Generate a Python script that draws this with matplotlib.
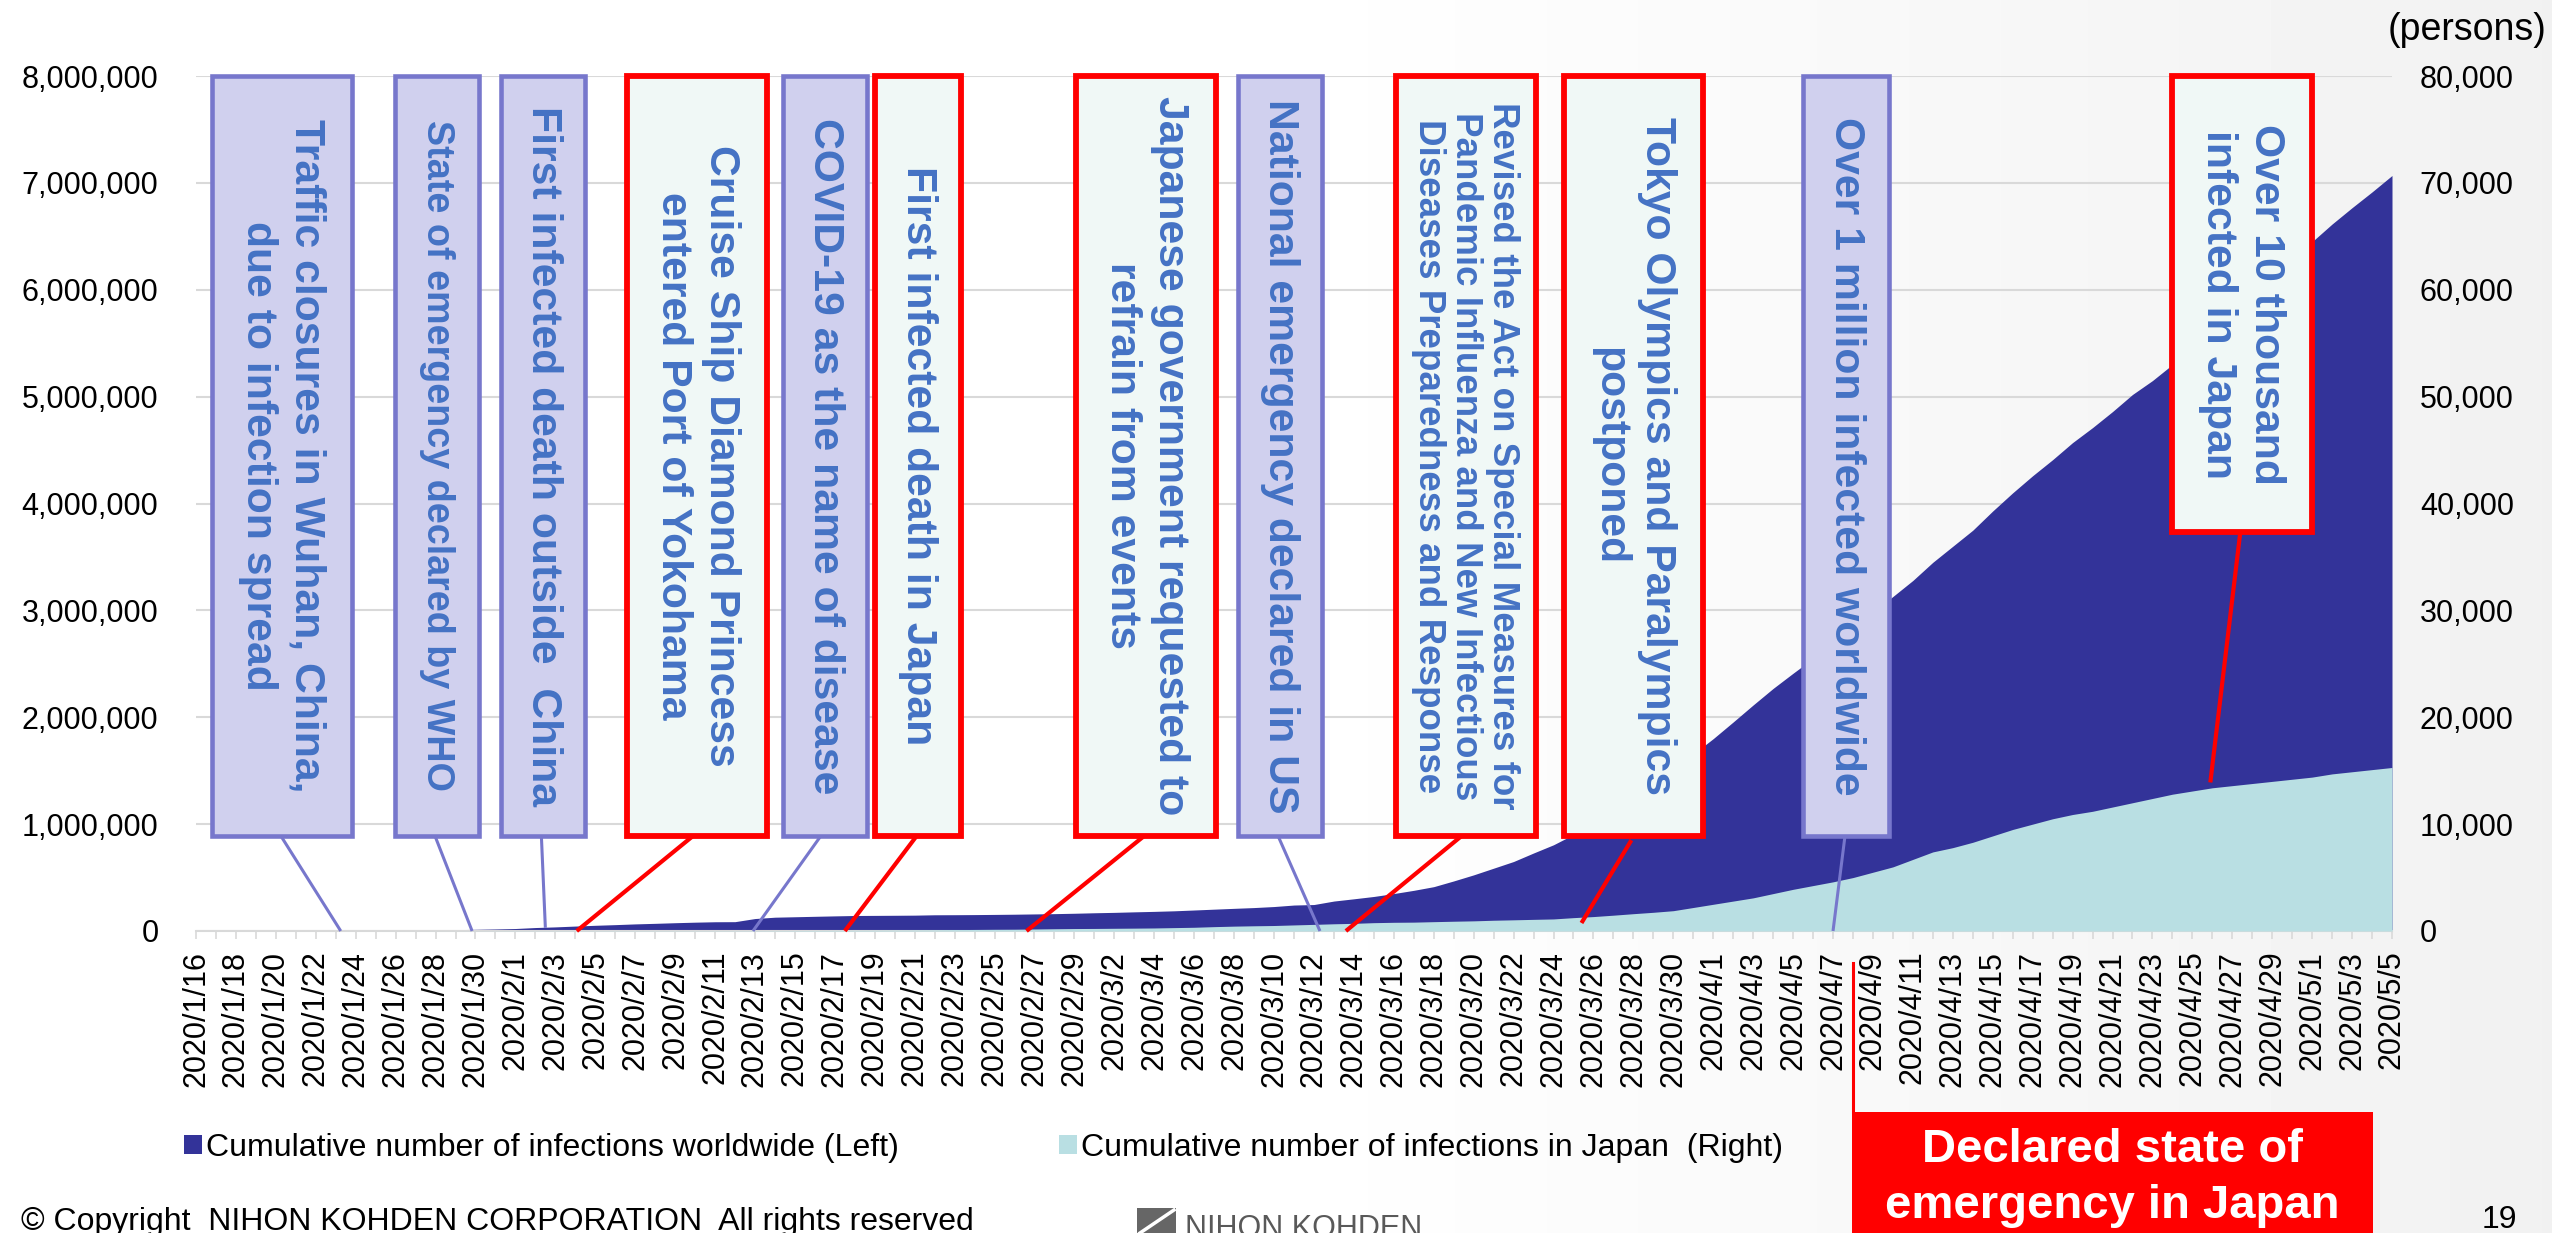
import numpy as np
import pandas as pd
import matplotlib
matplotlib.use("Agg")
import matplotlib.pyplot as plt
from matplotlib.patches import Rectangle, Polygon
from matplotlib.lines import Line2D
from matplotlib.ticker import FuncFormatter
from matplotlib import transforms

plt.rcParams['font.family'] = ['Liberation Sans', 'DejaVu Sans']

W, H = 2552, 1233

# categories: one point per day
dates = pd.date_range("2020-01-16", "2020-05-05", freq="D")
date_labels = [f"{d.year}/{d.month}/{d.day}" for d in dates]

# cumulative infections worldwide (left axis)
world = [90, 120, 230, 380, 560, 850, 1070, 1260, 1820, 2770,
         4090, 5650, 10770, 11900, 15890, 19160, 23230, 32400, 38380, 46120,
         53350, 59450, 66380, 71660, 77510, 82540, 86490, 87290, 116540, 129130,
         133270, 137480, 141410, 145040, 146010, 147090, 148300, 151700, 152430, 153520,
         155170, 157060, 159680, 162350, 166000, 170560, 174300, 179190, 183590, 188920,
         196470, 204260, 211980, 219210, 228860, 242920, 247700, 280220, 301270, 323180,
         350380, 380530, 414790, 468440, 525280, 587740, 650320, 729990, 806830, 902570,
         1022110, 1145050, 1275160, 1389830, 1509960, 1654950, 1799930, 1956000, 2115120, 2269800,
         2412030, 2550460, 2695200, 2850000, 2980000, 3130000, 3280000, 3450000, 3600000, 3750000,
         3930000, 4100000, 4260000, 4410000, 4570000, 4710000, 4860000, 5020000, 5150000, 5300000,
         5470000, 5620000, 5780000, 5950000, 6120000, 6280000, 6450000, 6615240, 6767990, 6915300,
         7068990]

# cumulative infections in Japan (right axis)
japan = [1, 1, 1, 1, 1, 1, 2, 2, 2, 2,
         4, 4, 7, 7, 11, 15, 20, 20, 20, 22,
         22, 25, 25, 25, 26, 26, 26, 28, 29, 33,
         41, 53, 59, 66, 74, 84, 94, 105, 132, 144,
         157, 164, 186, 210, 230, 239, 254, 268, 284, 317,
         349, 408, 455, 488, 514, 568, 620, 675, 716, 780,
         814, 829, 873, 914, 950, 1007, 1046, 1089, 1128, 1250,
         1350, 1480, 1620, 1750, 1900, 2200, 2500, 2800, 3100, 3500,
         3900, 4250, 4600, 5000, 5500, 6000, 6700, 7400, 7800, 8300,
         8900, 9500, 10000, 10500, 10900, 11200, 11600, 12000, 12400, 12800,
         13100, 13400, 13600, 13800, 14000, 14200, 14400, 14700, 14900, 15100,
         15300]

series_names = ["Cumulative number of infections worldwide (Left)",
                "Cumulative number of infections in Japan  (Right)"]

left_ticks = list(range(0, 8000001, 1000000))
right_ticks = list(range(0, 80001, 10000))

# callouts: text, kind, box span (day index), box bottom, leader start, leader end
events = [
    ("Traffic closures in Wuhan, China,\ndue to infection spread", "blue", (0.82, 7.81), 0.89e6, (4.25, 0.89e6), (7.25, 0)),
    ("State of emergency declared by WHO", "blue", (9.97, 14.2), 0.89e6, (11.97, 0.89e6), (13.83, 0)),
    ("First infected death outside  China", "blue", (15.3, 19.5), 0.89e6, (17.3, 0.89e6), (17.5, 0.03e6)),
    ("Cruise Ship Diamond Princess\nentered Port of Yokohama", "red", (21.6, 28.6), 0.89e6, (24.9, 0.89e6), (19.07, 0)),
    ("COVID-19 as the name of disease", "blue", (29.4, 33.6), 0.89e6, (31.3, 0.89e6), (27.9, 0)),
    ("First infected death in Japan", "red", (34.0, 38.3), 0.89e6, (36.1, 0.89e6), (32.5, 0)),
    ("Japanese government requested to\nrefrain from events", "red", (44.1, 51.1), 0.89e6, (47.5, 0.89e6), (41.6, 0)),
    ("National emergency declared in US", "blue", (52.2, 56.4), 0.89e6, (54.2, 0.89e6), (56.3, 0)),
    ("Revised the Act on Special Measures for\nPandemic Influenza and New Infectious\nDiseases Preparedness and Response",
     "red", (60.1, 67.1), 0.89e6, (63.4, 0.89e6), (57.6, 0)),
    ("Tokyo Olympics and Paralympics\npostponed", "red", (68.5, 75.5), 0.89e6, (71.9, 0.85e6), (69.4, 0.075e6)),
    ("Over 1 million infected worldwide", "blue", (80.5, 84.8), 0.89e6, (82.6, 0.89e6), (82.0, 0)),
    ("Over 10 thousand\ninfected in Japan", "red", (99.0, 106.0), 3.73e6, (102.4, 3.73e6), (100.9, 1.39e6)),
]
text_size = {1: 27.2}

fig = plt.figure(figsize=(W / 100, H / 100), dpi=100)

# faint slide background
bg = fig.add_axes([0, 0, 1, 1], zorder=-10)
gx = np.linspace(0, 1, 500)
grad = 1 - 0.055 * np.clip((gx - 0.5) / 0.5, 0, 1)
bg.imshow(np.tile(grad, (20, 1)), cmap="gray", vmin=0, vmax=1, aspect="auto", extent=[0, 1, 0, 1])
bg.axis("off")

ax = fig.add_axes([196 / W, 1 - 931 / H, 2196 / W, 855 / H])
ax.patch.set_alpha(0)
x = np.arange(len(dates))
ax.fill_between(x, world, color="#333399", lw=0)
ax.set_xlim(0, len(dates) - 1)
ax.set_ylim(0, 8e6)
ax.set_yticks(left_ticks)
ax.yaxis.set_major_formatter(FuncFormatter(lambda v, p: f"{int(v):,}"))
ax.yaxis.grid(True, color="#D9D9D9", lw=1.5)
ax.set_axisbelow(True)
for s in ["left", "right", "top"]:
    ax.spines[s].set_visible(False)
ax.spines["bottom"].set_color("#D9D9D9")
ax.spines["bottom"].set_linewidth(1.5)
ax.tick_params(axis="y", length=0, pad=27, labelsize=22)
ax.set_xticks(x)
ax.set_xticklabels([lab if i % 2 == 0 else "" for i, lab in enumerate(date_labels)], rotation=90)
ax.tick_params(axis="x", length=5.8, width=1.2, color="#D9D9D9", pad=8.4, labelsize=22)

ax2 = ax.twinx()
ax2.fill_between(x, japan, color="#B9DFE3", lw=0)
ax2.set_ylim(0, 80000)
ax2.set_yticks(right_ticks)
ax2.yaxis.set_major_formatter(FuncFormatter(lambda v, p: f"{int(v):,}"))
ax2.tick_params(axis="y", length=0, pad=20, labelsize=22)
for s in ax2.spines.values():
    s.set_visible(False)

tr = ax.transData
for i, (text, kind, (x0, x1), ybot, (lx0, ly0), (lx1, ly1)) in enumerate(events):
    if kind == "red":
        ec, fc, blw, llw = "#FF0000", "#F0F8F6", 4.2, 3.0
    else:
        ec, fc, blw, llw = "#7777CC", "#D0D0EE", 3.3, 2.2
    ax2.add_line(Line2D([lx0, lx1], [ly0, ly1], transform=tr, color=ec, lw=llw,
                        solid_capstyle="butt", zorder=3, clip_on=False))
    ax2.add_patch(Rectangle((x0, ybot), x1 - x0, 8e6 - ybot, transform=tr, fc=fc, ec=ec,
                            lw=blw, zorder=4, clip_on=False))
    nlines = text.count("\n") + 1
    fs = text_size.get(i, 26.5 if nlines == 3 else 30.8)
    ls = 1.08 if nlines == 3 else 1.26
    ax2.text((x0 + x1) / 2, (ybot + 8e6) / 2, text, transform=tr, rotation=270,
             ha="center", va="center", multialignment="center", fontsize=fs,
             linespacing=ls, color="#4472C4", fontweight="bold", zorder=5)

fig.text(2547 / W, 1 - 30 / H, "(persons)", ha="right", va="center", fontsize=27)

fig.legend([ax.collections[0], ax2.collections[0]], series_names, loc="center left",
           bbox_to_anchor=(184 / W, 1 - 1148 / H), ncol=2, frameon=False, fontsize=23,
           handlelength=0.55, handleheight=0.55, handletextpad=0.15, columnspacing=5.0,
           borderpad=0, borderaxespad=0)

# state of emergency marker below the axis
bt = transforms.blended_transform_factory(ax.transData, fig.transFigure)
fig.lines.append(Line2D([83, 83], [1 - 963 / H, 1 - 1112 / H], transform=bt, color="#FF0000", lw=2.2))
fig.patches.append(Rectangle((1852 / W, -0.01), (2373 - 1852) / W, (1233 - 1112) / H + 0.01,
                             transform=fig.transFigure, fc="#FF0000", ec="none"))
fig.text(2112 / W, 1 - 1162 / H, "Declared state of", ha="center", va="baseline",
         color="white", fontsize=34, fontweight="bold")
fig.text(2112 / W, 1 - 1218 / H, "emergency in Japan", ha="center", va="baseline",
         color="white", fontsize=34, fontweight="bold")

# footer
fig.text(21 / W, 1 - 1230 / H, "© Copyright  NIHON KOHDEN CORPORATION  All rights reserved",
         fontsize=23, va="baseline")
fig.text(2517 / W, 1 - 1228 / H, "19", ha="right", va="baseline", fontsize=23)
lx = 1137
fig.patches.append(Polygon([(lx / W, 1 - 1208 / H), ((lx + 39) / W, 1 - 1208 / H),
                            ((lx + 39) / W, 0), (lx / W, 0)], closed=True,
                           transform=fig.transFigure, fc="#666666", ec="none"))
fig.lines.append(Line2D([(lx + 37) / W, (lx + 3) / W], [1 - 1210 / H, 0], transform=fig.transFigure,
                        color="white", lw=2.5))
fig.text((lx + 48) / W, 1 - 1237 / H, "NIHON KOHDEN", fontsize=22, color="#595959", va="baseline")

fig.savefig("out.png", dpi=100)
